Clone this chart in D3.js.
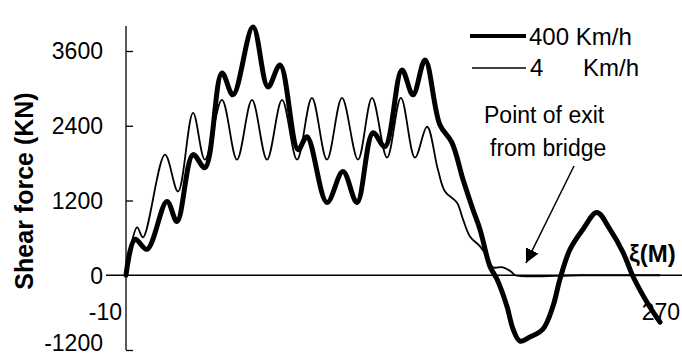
<!DOCTYPE html>
<html>
<head>
<meta charset="utf-8">
<script src="https://cdn.jsdelivr.net/npm/d3@7"></script>
<style>
  html, body { margin: 0; padding: 0; background: #fff; }
  svg { display: block; font-family: "Liberation Sans", Arial, sans-serif; }
</style>
</head>
<body>
<svg id="chart" width="682" height="358"></svg>
<script>
// Shear force along the bridge (distance ξ in m, force in kN)
const fastDist = [0, 4.6, 10.6, 20.7, 25.8, 33.9, 39.9, 48.5, 54.1, 64.2, 71.8, 77.9, 87.0, 91.5,
  101.6, 109.7, 116.8, 124.9, 130.9, 139.5, 145.1, 151.2, 158.7, 164.8, 170.4, 175.4, 179.0,
  184.0, 187.6, 192.6, 195.7, 199.2, 204.2, 210.8, 215.9, 219.4, 224.5, 231.0, 238.1, 244.7,
  251.3, 256.3, 263.4, 270];
const fastShear = [0, 576, 416, 1184, 864, 1936, 1728, 3248, 2896, 3984, 3024, 3376, 2016, 2224,
  1168, 1664, 1168, 2288, 2064, 3296, 2896, 3456, 2416, 2128, 1536, 1056, 736,
  144, -64, -496, -864, -1056, -992, -864, -496, -64, 416, 736, 1008, 736,
  368, -16, -432, -752];

const slowDist = [0, 5.6, 8.6, 19.7, 26.3, 33.9, 39.9, 48.5, 56.1, 63.7, 71.3, 78.9, 86.5, 94.0,
  101.6, 109.2, 117.3, 124.4, 132.0, 139.0, 146.1, 152.2, 157.7, 161.3, 167.3, 170.4, 173.9,
  179.0, 182.5, 185.5, 190.6, 195.1, 196.7, 230, 270];
const slowShear = [0, 768, 608, 1936, 1344, 2608, 1856, 2816, 1856, 2816, 1856, 2816, 1856, 2848,
  1856, 2848, 1856, 2848, 1888, 2848, 1888, 2384, 1696, 1344, 1168, 896, 624,
  464, 304, 128, 128, 48, 0, 0, 0];

const yTicks = [3600, 2400, 1200, -1200];
const yTickLabels = ["3600", "2400", "1200", "0", "-10", "-1200"];
const yLabelValues = [3600, 2400, 1200, 0, -590, -1200];
const seriesNames = ["400 Km/h", "4", "Km/h"];

const svg = d3.select("#chart");

const x = d3.scaleLinear().domain([0, 270]).range([126, 660]);
const y = d3.scaleLinear().domain([-1200, 3600]).range([350, 51]);

// vertical axis with inward ticks
const yAxis = d3.axisRight(y).tickValues(yTicks).tickSize(7).tickFormat("");
const gy = svg.append("g").attr("transform", `translate(${x(0)},0)`).call(yAxis);
gy.select(".domain").remove();
gy.selectAll(".tick line").attr("stroke", "#000").attr("stroke-width", 1.3);
svg.append("line")
  .attr("x1", x(0)).attr("x2", x(0))
  .attr("y1", y(4000)).attr("y2", y(-1200))
  .attr("stroke", "#000").attr("stroke-width", 1.3);

// horizontal ξ axis through zero
svg.append("line")
  .attr("x1", x(0) - 20).attr("x2", 682)
  .attr("y1", y(0)).attr("y2", y(0))
  .attr("stroke", "#000").attr("stroke-width", 1.3);

// tick labels (the lowest one sits a little higher so it stays inside the frame)
svg.append("g").selectAll("text")
  .data(yTickLabels)
  .join("text")
  .attr("x", (d, i) => i === 4 ? 122 : 103)
  .attr("y", (d, i) => y(yLabelValues[i]) - (i === 5 ? 7 : 0))
  .attr("dy", "0.36em")
  .attr("text-anchor", "end")
  .attr("font-size", 23)
  .attr("fill", "#000")
  .text(d => d);

// axis title
svg.append("text")
  .attr("transform", "translate(33,191) rotate(-90)")
  .attr("text-anchor", "middle")
  .attr("font-size", 25)
  .attr("font-weight", "bold")
  .attr("fill", "#000")
  .text("Shear force (KN)");

// curves
const line = d3.line()
  .x(d => x(d[0]))
  .y(d => y(d[1]))
  .curve(d3.curveCatmullRom.alpha(0.5));

svg.append("path")
  .datum(d3.zip(slowDist, slowShear))
  .attr("d", line)
  .attr("fill", "none")
  .attr("stroke", "#000")
  .attr("stroke-width", 1.8)
  .attr("stroke-linejoin", "round");

svg.append("path")
  .datum(d3.zip(fastDist, fastShear))
  .attr("d", line)
  .attr("fill", "none")
  .attr("stroke", "#000")
  .attr("stroke-width", 5)
  .attr("stroke-linejoin", "round")
  .attr("stroke-linecap", "round");

// x-axis labels
svg.append("text")
  .attr("x", 629).attr("y", 262)
  .attr("font-size", 24)
  .attr("font-weight", "bold")
  .attr("fill", "#000")
  .text("ξ(M)");
svg.append("text")
  .attr("x", 680).attr("y", 320)
  .attr("text-anchor", "end")
  .attr("font-size", 23)
  .attr("fill", "#000")
  .text("270");

// legend
const legend = svg.append("g");
legend.append("line")
  .attr("x1", 470).attr("x2", 526).attr("y1", 36).attr("y2", 36)
  .attr("stroke", "#000").attr("stroke-width", 4);
legend.append("line")
  .attr("x1", 472).attr("x2", 526).attr("y1", 68).attr("y2", 68)
  .attr("stroke", "#000").attr("stroke-width", 1.5);
legend.append("text")
  .attr("x", 529).attr("y", 45)
  .attr("font-size", 24).attr("fill", "#000")
  .text(seriesNames[0]);
legend.append("text")
  .attr("x", 530).attr("y", 76)
  .attr("font-size", 24).attr("fill", "#000")
  .text(seriesNames[1]);
legend.append("text")
  .attr("x", 583).attr("y", 76)
  .attr("font-size", 24).attr("fill", "#000")
  .text(seriesNames[2]);

// annotation
svg.append("text")
  .attr("x", 484).attr("y", 123)
  .attr("font-size", 23).attr("fill", "#000")
  .text("Point of exit");
svg.append("text")
  .attr("x", 490).attr("y", 156)
  .attr("font-size", 23).attr("fill", "#000")
  .text("from bridge");

svg.append("defs").append("marker")
  .attr("id", "arrowhead")
  .attr("viewBox", "0 0 10 10")
  .attr("refX", 10).attr("refY", 5)
  .attr("markerWidth", 14).attr("markerHeight", 14)
  .attr("markerUnits", "userSpaceOnUse")
  .attr("orient", "auto")
  .append("path")
  .attr("d", "M0,0 L10,5 L0,10 Z")
  .attr("fill", "#000");

svg.append("line")
  .attr("x1", 574).attr("y1", 166)
  .attr("x2", 526).attr("y2", 263)
  .attr("stroke", "#000").attr("stroke-width", 1.5)
  .attr("marker-end", "url(#arrowhead)");
</script>
</body>
</html>
